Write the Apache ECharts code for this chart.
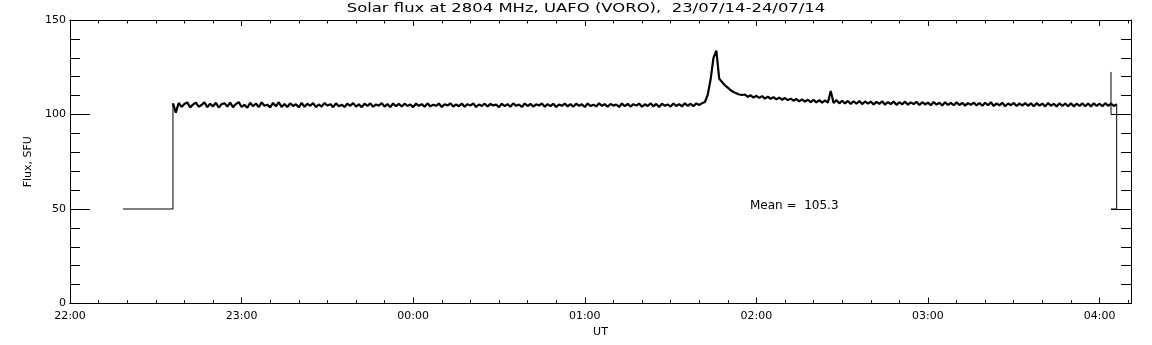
<!DOCTYPE html>
<html>
<head>
<meta charset="utf-8">
<script src="https://cdn.jsdelivr.net/npm/echarts@6/dist/echarts.min.js"></script>
<style>
  html, body { margin: 0; padding: 0; background: #fff; }
  #chart { width: 1152px; height: 345px; }
</style>
</head>
<body>
<div id="chart"></div>
<script>
// time is in minutes after 22:00 UT (23/07/14)
var startT = [18.5, 36, 36]
var startV = [50, 50, 105.9]

// one reading per minute, from minute 36 (22:36) to minute 366 (04:06)
var fluxStart = 36
var flux = [
  105.9, 101.0, 106.1, 104.0, 105.6, 106.4, 103.8, 105.2, 106.3, 104.1, 105.0, 106.5, 103.9, 105.7, 104.3, 106.2, 103.7, 105.4, 106.0, 104.2,
  106.3, 103.9, 105.5, 106.6, 104.0, 105.1, 103.6, 106.2, 104.4, 105.8, 103.9, 106.4, 104.6, 105.2, 103.8, 106.1, 104.3, 106.5, 104.0, 105.6,
  103.9, 106.0, 104.5, 105.4, 103.8, 106.2, 104.1, 105.7, 104.6, 106.0, 103.9, 105.3, 104.2, 106.1, 104.7, 105.5, 103.9, 105.9, 104.4, 105.2,
  104.0, 105.8, 104.6, 106.0, 104.2, 105.4, 103.9, 105.7, 104.5, 105.9, 104.1, 105.3, 104.7, 106.0, 104.2, 105.5, 103.9, 105.8, 104.4, 105.6,
  104.2, 105.7, 104.5, 105.3, 103.9, 105.8, 104.6, 105.5, 104.1, 105.9, 104.3, 105.2, 104.6, 105.8, 104.0, 105.4, 104.7, 105.9, 104.2, 105.3,
  104.4, 105.8, 104.1, 105.5, 104.7, 105.9, 104.0, 105.3, 104.5, 105.7, 104.2, 105.6, 104.8, 105.2, 103.9, 105.7, 104.4, 105.5, 104.1, 105.9,
  104.6, 105.3, 104.0, 105.8, 104.5, 105.6, 104.2, 105.4, 104.7, 105.9, 104.1, 105.5, 104.4, 105.7, 104.0, 105.3, 104.6, 105.8, 104.3, 105.5,
  104.1, 105.7, 104.6, 105.4, 104.0, 105.8, 104.5, 105.2, 104.3, 105.9, 104.6, 105.5, 104.1, 105.6, 104.7, 105.3, 104.0, 105.8, 104.4, 105.6,
  104.2, 105.5, 104.7, 105.8, 104.1, 105.4, 104.5, 105.9, 104.3, 105.6, 104.0, 105.7, 104.6, 105.3, 104.2, 105.8, 104.5, 105.5, 104.3, 105.9,
  104.6, 105.7, 104.4, 105.9, 105.0, 106.0,
  106.6, 110.5, 118.5, 130.0, 133.8, 119.0, 117.2, 115.4, 114.2, 112.8, 111.9, 111.2, 110.6, 110.3,
  110.6, 109.3, 110.2, 108.9, 109.9, 108.8, 109.7, 108.4, 109.5, 108.3, 109.2, 108.0, 108.9, 107.8, 108.7, 107.6, 108.4, 107.3, 108.2, 107.0,
  108.0, 106.8, 107.8, 106.6, 107.7, 106.4, 107.6, 106.3, 107.5, 106.2, 112.4, 106.1, 107.6, 105.9, 107.3, 105.8, 107.2, 105.6, 107.0, 105.7,
  107.1, 105.5, 106.9, 105.8, 106.8, 105.3, 106.7, 105.6, 107.0, 105.2, 106.6, 105.5, 106.9, 105.1, 106.5, 105.4, 106.8, 105.2, 106.4, 105.5,
  106.7, 105.0, 106.5, 105.3, 106.3, 104.9, 106.6, 105.2, 106.2, 104.8, 106.5, 105.1, 106.1, 104.9, 106.4, 105.0, 106.2, 104.7, 106.0, 105.1,
  106.3, 104.8, 106.1, 104.6, 106.2, 104.9, 106.5, 104.5, 105.9, 104.8, 106.2, 104.4, 105.8, 104.9, 106.1, 104.5, 105.9, 104.7, 106.0, 104.6,
  105.9, 104.4, 106.0, 104.7, 105.8, 104.3, 106.1, 104.6, 105.7, 104.2, 106.0, 104.5, 105.8, 104.4, 105.9, 104.3, 105.7, 104.6, 105.9, 104.4,
  105.8, 104.3, 105.9, 104.5, 105.7, 104.4, 106.0, 104.6, 105.8, 104.5, 105.4
]
var tailT = [366, 366, 364]
var tailV = [105.4, 50, 50]

// short glitch near the end of the record
var glitchT = [364, 364, 366]
var glitchV = [122.5, 100, 100]

var meanText = 'Mean =  105.3'
var titleText = 'Solar flux at 2804 MHz, UAFO (VORO),  23/07/14-24/07/14'

function pairs(ts, vs) {
  return ts.map(function (t, i) { return [t, vs[i]] })
}
var fluxData = flux.map(function (v, i) { return [fluxStart + i, v] })

function fmtTime(m) {
  var h = (22 + Math.floor(m / 60)) % 24
  var mm = Math.round(m % 60)
  return (h < 10 ? '0' : '') + h + ':' + (mm < 10 ? '0' : '') + mm
}

var font = 'DejaVu Sans'
var black = '#000'
var xMin = 0, xMax = 371

function xAx(pos, interval, len, labels) {
  return {
    type: 'value', position: pos, min: xMin, max: xMax, interval: interval,
    axisLine: { onZero: false, lineStyle: { color: black, width: 1 } },
    axisTick: { inside: true, length: len, lineStyle: { color: black } },
    axisLabel: {
      show: labels, color: black, fontFamily: font, fontSize: 11, margin: 7,
      showMaxLabel: false, formatter: fmtTime
    },
    splitLine: { show: false }
  }
}
function yAx(pos, labels) {
  return {
    type: 'value', position: pos, min: 0, max: 150, interval: 50,
    axisLine: { show: true, onZero: false, lineStyle: { color: black, width: 1 } },
    axisTick: { show: true, inside: true, length: 20, lineStyle: { color: black } },
    minorTick: { show: true, splitNumber: 5, length: 10, lineStyle: { color: black } },
    axisLabel: { show: labels, color: black, fontFamily: font, fontSize: 11, margin: 4 },
    splitLine: { show: false }
  }
}

var xMajor = xAx('bottom', 60, 6, true)
xMajor.name = 'UT'
xMajor.nameLocation = 'middle'
xMajor.nameGap = 17
xMajor.nameTextStyle = { color: black, fontFamily: font, fontSize: 11 }

var yLeft = yAx('left', true)
yLeft.name = 'Flux, SFU'
yLeft.nameLocation = 'middle'
yLeft.nameGap = 32
yLeft.nameTextStyle = { color: black, fontFamily: font, fontSize: 11 }

function thin(data) {
  return {
    type: 'line', data: data, showSymbol: false, silent: true,
    lineStyle: { color: black, width: 1 }
  }
}

var chart = echarts.init(document.getElementById('chart'), null, { renderer: 'canvas' })
chart.setOption({
  animation: false,
  backgroundColor: '#fff',
  grid: { left: 70, right: 21, top: 20, bottom: 41.5 },
  xAxis: [xMajor, xAx('bottom', 10, 3.5, false), xAx('top', 60, 6, false), xAx('top', 10, 3.5, false)],
  yAxis: [yLeft, yAx('right', false)],
  graphic: [
    {
      type: 'text', x: 586, y: 3, scaleX: 1.37,
      style: { text: titleText, fill: black, font: '12px "DejaVu Sans"', textAlign: 'center' }
    },
    {
      type: 'text', left: 750, top: 200,
      style: { text: meanText, fill: black, font: '12px "DejaVu Sans"' }
    }
  ],
  series: [
    thin(pairs(startT, startV)),
    {
      type: 'line', data: fluxData, showSymbol: false, silent: true,
      lineStyle: { color: black, width: 2.2 }
    },
    thin(pairs(tailT, tailV)),
    thin(pairs(glitchT, glitchV))
  ]
})
window.addEventListener('resize', function () { chart.resize() })
</script>
</body>
</html>
